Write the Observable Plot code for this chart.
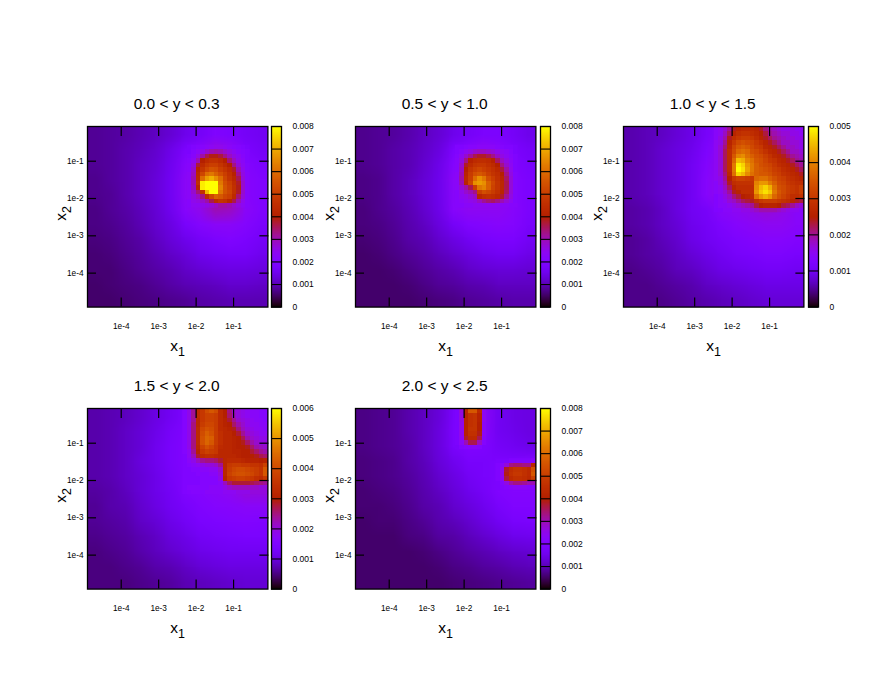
<!DOCTYPE html>
<html><head><meta charset="utf-8">
<script src="https://cdn.jsdelivr.net/npm/d3@7"></script>
<script src="https://cdn.jsdelivr.net/npm/@observablehq/plot@0.6"></script>
<style>
body{margin:0;background:#fff}
#chart{position:relative;width:885px;height:684px;overflow:hidden}
#chart svg{position:absolute;overflow:visible;background:transparent}
</style></head><body><div id="chart"></div>
<script>
// all values in units of 1e-4; axes in log10(x)
const titles=["0.0 < y < 0.3","0.5 < y < 1.0","1.0 < y < 1.5","1.5 < y < 2.0","2.0 < y < 2.5"];
const maxima=[80,80,50,60,80];
const tickValues=[-4,-3,-2,-1];
const tickLabels=["1e-4","1e-3","1e-2","1e-1"];
const barLabels={80:["0","0.001","0.002","0.003","0.004","0.005","0.006","0.007","0.008"],50:["0","0.001","0.002","0.003","0.004","0.005"],60:["0","0.001","0.002","0.003","0.004","0.005","0.006"]};
const base1=[
[8,8.5,9,10,11,12.5,15,17,20,19,17,16],
[8,8.5,9.5,10.5,12,14.5,19,22,26,24,19,17],
[8,8.5,9.5,11,12.5,15.5,21.5,26,30,30,21,19],
[7.5,8.5,9.5,11,13,16,23,28,34,34,22,20],
[7.5,8,9.5,11,13,16,23,28,34,34,22,20],
[7,8,9,10.5,12.5,15.5,22,25,30,29,23,20],
[7,7.5,8.5,10,12,14,18,21,23,23,21,18.5],
[6.5,7,8,9,11,13,15,17,19,20,19,17],
[6,6.5,7.5,8.5,10,11.5,13,15,16,17,17,15.5],
[6,6,7,8,9,10,11.5,12.5,13.5,14,14,13.5],
[5.5,6,6.5,7,8,9,10,10.5,11,12,12,11.5],
[5.5,5.5,6,6.5,7,7.5,8,9,9.5,10,10,10]];
const hot1=[
[19,20,21,22,23,24,25,25,24,23,22,21,20,19],
[19,21,23,25,28,30,31,30,28,26,24,22,21,20],
[20,22,26,31,36,39,39,37,33,29,26,24,22,20],
[21,24,30,40,44,46,46,44,40,34,29,25,23,20],
[22,26,37,44,48,50,50,47,44,40,33,27,24,21],
[22,28,41,47,52,55,54,50,47,44,38,30,25,21],
[23,29,43,52,60,62,58,54,50,46,41,33,26,22],
[23,30,44,60,68,71,66,60,52,47,43,36,27,22],
[23,30,46,78,80,80,80,62,54,50,45,38,28,22],
[23,29,42,78,80,80,80,64,55,51,46,39,28,22],
[23,28,34,46,72,80,80,62,55,52,46,38,28,22],
[23,26,29,33,44,52,58,56,52,50,44,34,27,22],
[22,25,26,28,31,36,44,47,46,42,36,30,25,22],
[22,24,24,25,26,27,29,31,31,30,28,26,24,22]];
const base2=[
[7.5,8,8.5,9.5,11,12.5,15,17,19,19,17,15],
[7.5,8,9,10,11.5,13.5,19,21,24,22,19,17],
[7.5,8,9,10,12,14.5,21,25,28,26,20,18],
[7,7.5,9,10.5,12.5,15,23,26,30,28,21,19],
[7,7.5,9,10.5,12.5,15,22.5,26,29,28,21,19],
[6.5,7.5,8.5,10,12,14.5,22,24,24,24,22,19],
[6.5,7,8,9.5,11,13.5,17,20,21,22,21,18],
[6,6.5,7.5,9,10,12,14,16,18,19,19,16.5],
[5.5,6,7,8,9,10.5,12,13.5,15,16,16,14.5],
[5.5,5.5,6,7,8,9,10,11.5,12.5,13,13,12.5],
[5.5,5.5,5.5,6,7,8,8.5,9.5,10,11,11,11],
[5.5,5.5,5.5,5.5,6,6.5,7,8,8.5,9,9.5,9.5]];
const hot2=[
[20,20,21,22,22,23,23,23,23,22,21,20,20,19],
[20,22,24,26,28,29,29,28,27,25,24,23,21,19],
[21,24,28,32,36,38,38,36,33,29,26,24,22,20],
[22,26,33,41,44,45,45,44,41,35,29,26,23,20],
[22,28,38,44,47,48,48,46,44,40,33,28,24,20],
[22,29,40,47,50,52,50,48,46,43,37,31,25,20],
[23,30,42,49,54,56,54,50,47,45,40,33,26,21],
[23,31,43,50,60,66,62,54,50,46,42,35,27,21],
[23,30,42,52,66,68,66,58,52,47,43,36,27,21],
[23,27,31,36,50,62,64,58,51,47,43,36,27,21],
[22,25,28,30,33,50,54,52,49,46,42,35,27,21],
[22,24,25,27,29,42,45,46,45,43,38,32,26,21],
[22,23,24,25,26,29,32,34,35,33,30,27,24,21],
[22,22,23,23,24,24,24,24,24,24,23,23,22,22]];
const base3=[
[6,6.5,7,8,9,11,14,14,15,15,15,14.5],
[6,6.5,7.5,8.5,9.5,12,15,15,17,17,16,15],
[6,6.5,7.5,8.5,10,13,16,15,18,18,17,16],
[6,6.5,7.5,8.5,10,13.5,16,15,18,19,19,18],
[6,6.5,7.5,8.5,10,13.5,16,15,17,18,20,20],
[5.5,6,7,8.5,10,11,14,15,16,17,16,14],
[5.5,6,7,8,9.5,10.5,12,13.5,14.5,15,15,14],
[5,5.5,6.5,7.5,9,10,11,12,13,13.5,13.5,13],
[5,5.5,6,7,8,9,10,11,11.5,12,12,11.5],
[4.5,5,5.5,6.5,7,8,9,9.5,10,10.5,10.5,10],
[4.5,4.5,5,5.5,6,7,7.5,8,8.5,9,9,9],
[4.5,4.5,4.5,5,5.5,6,6.5,7,7.5,8,8,8]];
const hot3=[
[14,15,17,20,24,26,27,27,27,26,24,21,19,18,17,16,16,16,15,15],
[14,15,18,22,26,28,29,29,28,27,25,23,20,19,18,17,17,16,16,15],
[14,16,19,24,28,30,31,31,30,28,26,24,22,20,19,18,17,17,16,16],
[15,16,20,26,30,33,34,33,32,30,28,26,24,22,20,18,18,17,17,16],
[15,17,21,27,32,35,36,35,33,31,30,27,26,24,22,20,18,18,17,16],
[15,17,22,28,33,37,38,37,34,33,31,29,27,26,24,22,20,18,18,17],
[15,17,22,28,35,40,41,38,36,34,33,31,29,27,26,24,22,20,19,18],
[15,17,22,28,37,45,44,40,38,35,34,32,30,29,27,26,24,22,20,19],
[15,17,22,28,39,49,47,42,39,36,34,33,32,30,28,27,26,24,22,20],
[15,17,22,28,39,50,48,43,39,36,35,34,33,31,30,28,27,26,24,22],
[15,17,21,27,38,47,45,41,38,36,35,35,34,32,31,29,28,27,26,24],
[15,16,20,25,30,32,32,31,30,37,38,38,36,34,32,31,29,28,27,26],
[14,16,19,24,28,29,29,29,29,40,42,42,39,36,33,32,30,29,28,28],
[14,15,18,22,26,28,28,28,28,41,45,47,44,38,34,33,31,30,29,31],
[14,15,17,20,24,26,28,28,28,42,46,48,46,39,35,33,31,30,29,31],
[13,14,16,18,21,23,25,26,27,38,42,44,42,37,34,32,30,28,28,29],
[13,14,15,17,18,20,22,23,24,28,30,31,31,31,30,29,28,26,24,23],
[13,14,14,15,16,17,18,19,20,23,25,26,26,26,25,23,22,20,18,17],
[12.5,13,14,14,15,15,16,16,17,18,19,19,19,19,18,17,16,15,15,14]];
const base4=[
[7,7.5,8,9,10.5,12,14.5,18,20,20,18,17],
[7,7.5,8.5,9.5,11,13,15,18,21,21,19,17],
[7,7.5,8.5,9.5,11.5,13.5,15.5,18,22,22,20,18],
[7,7.5,8.5,10,11.5,13.5,15.5,17.5,21,23,22,20],
[7,7.5,8.5,9.5,11,13,15,17,18,22,24,23],
[6.5,7,8,9.5,11,12.5,15,16,17,18,20,20],
[6,7,7.5,9,10.5,12,13.5,15,16,16.5,17,17],
[6,6.5,7,8.5,9.5,11,12.5,14,14.5,15,15.5,15],
[5.5,6,6.5,7.5,8.5,10,11,12.5,13,13.5,14,14],
[5,5.5,6,7,8,9,10,11,11.5,12,12,12],
[5,5,5.5,6,7,7.5,8.5,9.5,10,10.5,10.5,10.5],
[5,5,5,5.5,6,6.5,7.5,8,8.5,9,9.5,9.5]];
const hot4=[
[16,19,24,33,36,40,42,40,33,30,25,21,20,19,18,17,17,16,16],
[16,19,24,33,36,38,38,37,33,30,26,22,20,19,18,17,17,16,16],
[16,19,24,32,36,38,38,37,33,31,28,24,21,20,19,18,17,17,16],
[16,19,25,32,37,39,39,37,33,31,30,26,23,21,19,18,18,17,17],
[16,19,25,33,39,41,40,37,33,32,31,29,25,22,20,19,18,18,17],
[16,19,25,33,40,43,41,37,34,32,32,30,28,24,21,20,19,18,18],
[16,19,25,33,41,44,43,37,34,32,32,31,30,27,23,21,20,19,19],
[16,19,25,33,41,44,42,37,34,32,32,31,30,29,26,23,21,20,20],
[16,19,25,32,38,41,39,36,33,32,32,31,30,30,29,26,23,22,21],
[16,18,24,31,36,38,37,36,32,32,32,31,31,30,30,28,26,24,23],
[15,18,22,28,33,34,34,33,32,32,32,32,31,30,30,30,29,27,26],
[15,17,19,22,24,25,25,26,28,32,33,33,33,32,31,31,31,30,31],
[15,16,17,18,19,20,20,21,24,32,36,37,37,36,36,35,35,34,38],
[15,15,16,16,17,17,18,18,21,32,37,39,40,40,39,38,37,35,42],
[15,15,15,16,16,16,17,17,20,32,38,40,41,41,40,39,37,35,42],
[15,15,15,15,16,16,16,16,19,31,36,37,38,38,37,36,34,33,36],
[15,15,15,15,16,16,16,16,17,22,26,28,28,28,28,27,26,25,24],
[15,16,16,16,16,16,17,17,17,19,21,22,22,22,22,21,21,20,20],
[15,15.5,16,16,16,17,17,17,17,18,18,18,19,19,19,20,20,20,20]];
const base5=[
[7,7.5,8,9.5,11,13,18,22,23,16,14.5,14],
[7,7.5,8,9.5,11,13.5,18.5,22,22,16,15,14],
[7,7.5,8,9,11,13.5,18,20,19.5,17,16,15],
[6.5,7,7.5,9,10.5,13,15.5,18,18,19,19,20],
[6.5,7,7.5,8.5,10,12,14,16.5,18,19,19,20],
[6,6.5,7,8,9.5,11,13,15,17,20,21,21],
[6,6,6.5,7.5,9,10,12,13.5,15.5,18,20,20],
[5.5,6,6,7,8,9.5,10.5,12,14,16,18,18.5],
[5.5,5.5,5.5,6.5,7,8.5,9,10.5,12,13.5,15,15.5],
[5.5,5.5,5.5,5.5,6,7,8,9,10,11,12,12.5],
[5.5,5.5,5.5,5.5,5.5,6,7,7.5,8.5,9,10,10.5],
[5.5,5.5,5.5,5.5,5.5,5.5,6,6.5,7,7.5,8,8.5]];
const hot5a=[
[19,27,42,56,56,44,24],
[19,26,41,46,47,41,24],
[19,26,41,46,47,41,24],
[19,25,41,46,47,40,23],
[19,25,41,47,47,40,23],
[19,25,41,46,46,39,23],
[19,24,38,44,44,36,22],
[19,23,30,36,36,29,21],
[18,20,21,22,22,21,19]];
const hot5b=[
[19,19,19,20,20,20,20,20,22],
[20,22,27,33,34,34,33,33,42],
[20,25,38,45,47,47,46,44,54],
[20,25,39,46,48,48,46,44,56],
[20,24,37,44,46,46,45,43,50],
[19,21,26,31,33,33,32,30,30],
[19,20,21,22,23,23,23,22,22]];
const patches=[[[hot1,22,4]],[[hot2,22,4]],[[hot3,20,0]],[[hot4,21,0]],[[hot5a,22,0],[hot5b,31,11]]];
const bases=[base1,base2,base3,base4,base5];

const FW=180.4,FH=180.6,ML=70,MT=42,MB=62;
const frameLefts=[86.6,355,623.3,86.6,355];
const frameTops=[126,126,126,408,408];
const lx=[-4.9,-0.084],ly=[-4.91,-0.07],N=40;
// gnuplot default pm3d palette (rgbformulae 7,5,15)
const palette=t=>{t=Math.max(0,Math.min(1,t));
  const r=Math.sqrt(t),g=t*t*t,b=Math.max(0,Math.sin(2*Math.PI*t));
  return `rgb(${Math.round(r*255)},${Math.round(g*255)},${Math.round(b*255)})`;};
const colX=c=>lx[0]+c*(lx[1]-lx[0])/N;
const rowY=r=>ly[1]-r*(ly[1]-ly[0])/N;
const chart=document.getElementById("chart");
const font="'Liberation Sans',Arial,sans-serif";

function subscript(svg,label,dy){
  for(const t of svg.querySelectorAll("text")){
    if(t.textContent.trim()!==label) continue;
    const host=t.querySelector("tspan")||t; host.textContent="";
    const a=document.createElementNS("http://www.w3.org/2000/svg","tspan");a.textContent=label[0];
    const b=document.createElementNS("http://www.w3.org/2000/svg","tspan");b.textContent=label[1];
    b.setAttribute("dy",dy);b.setAttribute("font-size","12.5");
    host.append(a,b);
  }
}
titles.forEach((title,i)=>{
  const max=maxima[i];
  const color={type:"linear",domain:[0,max],interpolate:palette,clamp:true};
  const layers=[Plot.raster(bases[i].flat(),{width:12,height:12,x1:lx[0],x2:lx[1],y1:ly[1],y2:ly[0],fill:Plot.identity})];
  for(const [rows,c0,r0] of patches[i]){
    layers.push(Plot.raster(rows.flat(),{width:rows[0].length,height:rows.length,
      x1:colX(c0),x2:colX(c0+rows[0].length),y1:rowY(r0),y2:rowY(r0+rows.length),fill:Plot.identity,imageRendering:"pixelated"}));
  }
  const fmt=d=>tickLabels[tickValues.indexOf(d)];
  const svg=Plot.plot({
    width:ML+FW+4,height:MT+FH+MB,marginLeft:ML,marginRight:4,marginTop:MT,marginBottom:MB,
    style:{fontFamily:font,background:"transparent",color:"#000",overflow:"visible"},
    x:{domain:lx},
    y:{domain:ly},
    color,
    marks:[
      ...layers,
      Plot.axisX(tickValues,{anchor:"bottom",tickSize:-9,fill:"none",strokeWidth:1.2,label:null}),
      Plot.axisX(tickValues,{anchor:"top",tickSize:-9,fill:"none",strokeWidth:1.2,label:null}),
      Plot.axisY(tickValues,{anchor:"left",tickSize:-9,fill:"none",strokeWidth:1.2,label:null}),
      Plot.axisY(tickValues,{anchor:"right",tickSize:-9,fill:"none",strokeWidth:1.2,label:null}),
      Plot.axisX(tickValues,{anchor:"bottom",tickSize:0,tickPadding:16,tickFormat:fmt,fontSize:8.3,label:null}),
      Plot.axisY(tickValues,{anchor:"left",tickSize:0,tickPadding:4,tickFormat:fmt,fontSize:8.3,label:null}),
      Plot.frame({stroke:"#000",strokeWidth:1.3}),
      Plot.text([title],{frameAnchor:"top",dx:-1,dy:-29,fontSize:15.5,fill:"#000"}),
      Plot.text(["x1"],{frameAnchor:"bottom",dy:44,fontSize:15.5,fill:"#000"}),
      Plot.text(["x2"],{frameAnchor:"left",dx:-26,dy:4,rotate:-90,fontSize:15.5,fill:"#000"})
    ]
  });
  subscript(svg,"x1",5);subscript(svg,"x2",5);
  svg.style.left=(frameLefts[i]-ML)+"px";svg.style.top=(frameTops[i]-MT)+"px";
  chart.append(svg);

  const ticks=d3.range(0,max+1,10);
  const levels=d3.range(128).map(k=>(127.5-k)/128*max);
  const labels=barLabels[max];
  const bar=Plot.plot({
    width:60,height:FH+20,marginLeft:0,marginRight:50,marginTop:10,marginBottom:10,
    style:{fontFamily:font,background:"transparent",color:"#000",overflow:"visible"},
    x:{domain:[0,1],axis:null},
    y:{domain:[0,max]},
    color,
    marks:[
      Plot.raster(levels,{width:1,height:128,x1:0,x2:1,y1:max,y2:0,fill:Plot.identity}),
      Plot.ruleY(ticks,{stroke:"#000",strokeWidth:1.1}),
      Plot.axisY(ticks,{anchor:"right",tickSize:0,tickPadding:11,fontSize:8.5,label:null,tickFormat:d=>labels[ticks.indexOf(d)]}),
      Plot.frame({stroke:"#000",strokeWidth:1.3})
    ]
  });
  bar.style.left=(frameLefts[i]+FW+4.3)+"px";bar.style.top=(frameTops[i]-10)+"px";
  chart.append(bar);
});
</script></body></html>
